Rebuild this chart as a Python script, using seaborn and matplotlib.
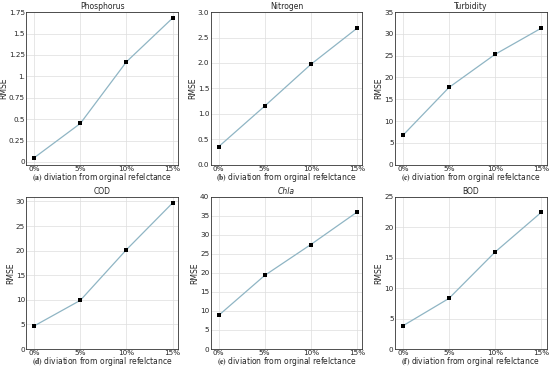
import matplotlib
matplotlib.use("Agg")
import matplotlib.pyplot as plt
import seaborn as sns
import pandas as pd

# deviation levels and RMSE values
deviation = ["0%", "5%", "10%", "15%"]
phosphorus = [0.05, 0.45, 1.17, 1.68]
nitrogen = [0.35, 1.15, 1.97, 2.68]
turbidity = [6.7, 17.7, 25.3, 31.3]
cod = [4.7, 9.9, 20.2, 29.7]
chla = [8.8, 19.3, 27.4, 35.9]
bod = [3.8, 8.3, 15.9, 22.4]

titles = ["Phosphorus", "Nitrogen", "Turbidity", "COD", "Chla", "BOD"]
letters = ["a", "b", "c", "d", "e", "f"]
series = [phosphorus, nitrogen, turbidity, cod, chla, bod]
ylims = [(-0.03, 1.75), (0, 3.0), (0, 35), (0, 31), (0, 40), (0, 25)]
yticks = [
    [0, 0.25, 0.5, 0.75, 1.0, 1.25, 1.5, 1.75],
    [0, 0.5, 1.0, 1.5, 2.0, 2.5, 3.0],
    [0, 5, 10, 15, 20, 25, 30, 35],
    [0, 5, 10, 15, 20, 25, 30],
    [0, 5, 10, 15, 20, 25, 30, 35, 40],
    [0, 5, 10, 15, 20, 25],
]
ytick_labels = [
    ["0", "0.25", "0.5", "0.75", "1.", "1.25", "1.5", "1.75"],
    ["0.0", "0.5", "1.0", "1.5", "2.0", "2.5", "3.0"],
    None, None, None, None,
]

sns.set_style("whitegrid", {"axes.edgecolor": "#333333", "grid.color": "#dddddd"})
plt.rcParams["font.family"] = ["DejaVu Sans"]
plt.rcParams["mathtext.fontset"] = "stix"

fig, axs = plt.subplots(2, 3, figsize=(5.5, 3.67), dpi=100)
fig.subplots_adjust(left=0.048, right=0.994, bottom=0.049, top=0.967, wspace=0.215, hspace=0.21)

for i, ax in enumerate(axs.flat):
    df = pd.DataFrame({"x": range(len(deviation)), "y": series[i]})
    sns.lineplot(data=df, x="x", y="y", ax=ax, color="#8fb5c4", linewidth=0.9)
    sns.scatterplot(data=df, x="x", y="y", ax=ax, color="black", marker="s", s=8, linewidth=0, zorder=3)
    ax.set_xticks(range(len(deviation)))
    ax.set_xticklabels(deviation)
    ax.set_xlim(-0.17, 3.12)
    ax.set_ylim(*ylims[i])
    ax.set_yticks(yticks[i])
    if ytick_labels[i] is not None:
        ax.set_yticklabels(ytick_labels[i])
    ax.tick_params(labelsize=5.2, length=0, pad=1)
    ax.set_title(titles[i], fontsize=5.5, pad=2, style="italic" if titles[i] == "Chla" else "normal")
    ax.set_ylabel("RMSE", fontsize=5.5, labelpad=0.5)
    ax.set_xlabel(r"$\mathbf{(" + letters[i] + ")}$ diviation from orginal refelctance", fontsize=5.5, labelpad=-1)
    for s in ax.spines.values():
        s.set_linewidth(0.6)
    ax.grid(linewidth=0.5)

fig.savefig("out.png", dpi=100)
